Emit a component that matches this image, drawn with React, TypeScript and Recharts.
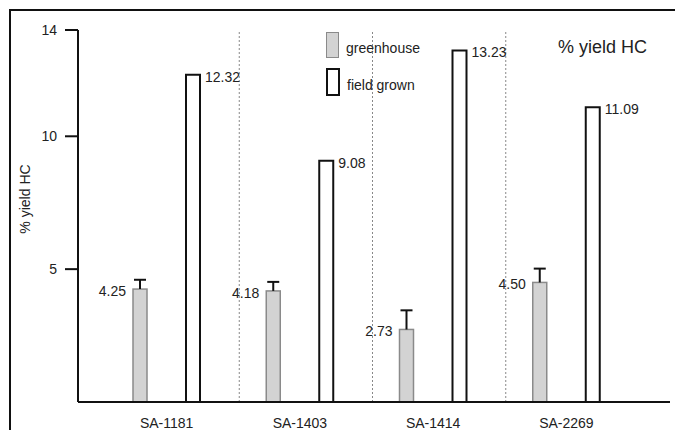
import {
  BarChart,
  Bar,
  XAxis,
  YAxis,
  LabelList,
  ReferenceLine,
} from "recharts";

// values
const lines = ["SA-1181", "SA-1403", "SA-1414", "SA-2269"];
const greenhouse = [4.25, 4.18, 2.73, 4.5];
const greenhouseErr = [0.35, 0.34, 0.72, 0.52];
const fieldGrown = [12.32, 9.08, 13.23, 11.09];
const yTicks = [5, 10, 14];
const seriesNames = ["greenhouse", "field grown"];
const separators = ["SA-1181", "SA-1403", "SA-1414"];

const data = lines.map((line, i) => ({
  line,
  greenhouse: greenhouse[i],
  err: greenhouseErr[i],
  field: fieldGrown[i],
}));

const FONT = "'Liberation Sans', Arial, Helvetica, sans-serif";

// grey bar with an upper-only whisker, scaled from the bar's own pixel height
const greenhouseShape = (props: any) => {
  const { x, y, width, height, payload } = props;
  const perUnit = height / payload.greenhouse;
  const top = y - payload.err * perUnit;
  const cx = x + width / 2;
  return (
    <g>
      <rect
        x={x}
        y={y}
        width={width}
        height={height}
        fill="#d3d3d3"
        stroke="#8a8a8a"
        strokeWidth={1.5}
      />
      <line x1={cx} x2={cx} y1={y} y2={top} stroke="#111" strokeWidth={2} />
      <line
        x1={cx - 6}
        x2={cx + 6}
        y1={top}
        y2={top}
        stroke="#111"
        strokeWidth={2}
      />
    </g>
  );
};

const leftLabel = (props: any) => {
  const { x, y, value } = props;
  return (
    <text
      x={Number(x) - 7}
      y={Number(y) + 2}
      textAnchor="end"
      dominantBaseline="central"
      fontSize={14}
      fill="#222"
    >
      {Number(value).toFixed(2)}
    </text>
  );
};

const rightLabel = (props: any) => {
  const { x, y, width, value } = props;
  return (
    <text
      x={Number(x) + Number(width) + 5}
      y={Number(y) + 2}
      textAnchor="start"
      dominantBaseline="central"
      fontSize={14}
      fill="#222"
    >
      {Number(value).toFixed(2)}
    </text>
  );
};

const yLabel = (props: any) => {
  const { viewBox } = props;
  const cx = 25;
  const cy = viewBox.y + viewBox.height / 2 - 17;
  return (
    <text
      x={cx}
      y={cy}
      transform={`rotate(-90, ${cx}, ${cy})`}
      textAnchor="middle"
      dominantBaseline="central"
      fontSize={14}
      fill="#222"
    >
      % yield HC
    </text>
  );
};

export default function App() {
  return (
    <div
      style={{
        position: "absolute",
        left: 0,
        top: 0,
        width: 675,
        height: 430,
        background: "#fff",
        fontFamily: FONT,
        overflow: "hidden",
      }}
    >
      {/* frame */}
      <div
        style={{
          position: "absolute",
          left: 9,
          top: 9,
          width: 700,
          height: 500,
          borderLeft: "2px solid #111",
          borderTop: "2px solid #111",
        }}
      />

      <BarChart
        width={675}
        height={430}
        data={data}
        margin={{ top: 30, right: 5, bottom: 0, left: 0 }}
        barSize={14}
        barGap={39}
        style={{ fontFamily: FONT }}
      >
        <XAxis
          dataKey="line"
          height={28}
          padding={{ left: 22, right: 37 }}
          tickLine={false}
          tickMargin={10}
          axisLine={{ stroke: "#111", strokeWidth: 2 }}
          tick={{ fontSize: 14, fill: "#222" }}
        />
        <XAxis
          xAxisId="sep"
          dataKey="line"
          hide
          padding={{ left: 28, right: 31 }}
        />
        <YAxis
          domain={[0, 14]}
          ticks={yTicks}
          width={78}
          tickSize={13}
          tickMargin={8}
          axisLine={{ stroke: "#111", strokeWidth: 2 }}
          tickLine={{ stroke: "#111", strokeWidth: 2 }}
          tick={{ fontSize: 14, fill: "#222" }}
          label={yLabel}
        />

        {separators.map((s) => (
          <ReferenceLine
            key={s}
            xAxisId="sep"
            x={s}
            position="end"
            stroke="#888"
            strokeWidth={1}
            strokeDasharray="2 2"
          />
        ))}

        <Bar
          dataKey="greenhouse"
          shape={greenhouseShape}
          isAnimationActive={false}
        >
          <LabelList dataKey="greenhouse" content={leftLabel} />
        </Bar>
        <Bar
          dataKey="field"
          fill="#fff"
          stroke="#111"
          strokeWidth={2}
          isAnimationActive={false}
        >
          <LabelList dataKey="field" content={rightLabel} />
        </Bar>
      </BarChart>

      {/* legend */}
      {seriesNames.map((name, i) => (
        <div
          key={name}
          style={{
            position: "absolute",
            left: 326,
            top: 31 + i * 37,
            display: "flex",
            alignItems: "center",
            height: 27,
          }}
        >
          <div
            style={{
              width: i === 0 ? 11 : 10,
              height: 24,
              background: i === 0 ? "#d3d3d3" : "#fff",
              border: i === 0 ? "1.5px solid #8a8a8a" : "2px solid #111",
            }}
          />
          <span
            style={{
              marginLeft: 7,
              fontSize: 14,
              color: "#222",
              position: "relative",
              top: 3,
            }}
          >
            {name}
          </span>
        </div>
      ))}

      {/* title */}
      <div
        style={{
          position: "absolute",
          left: 558,
          top: 36,
          fontSize: 18,
          lineHeight: "22px",
          color: "#222",
        }}
      >
        % yield HC
      </div>
    </div>
  );
}
